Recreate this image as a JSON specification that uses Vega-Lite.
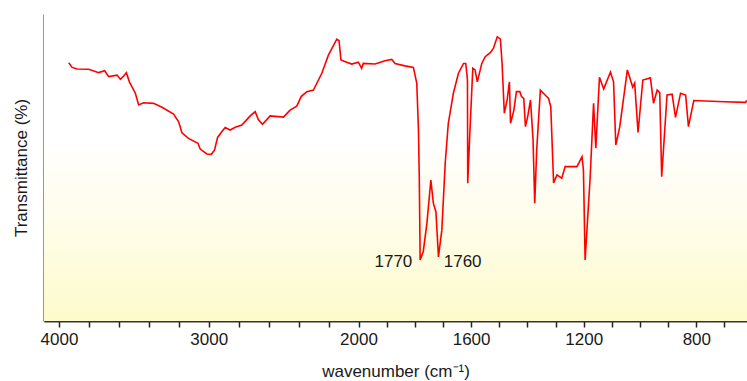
{
  "$schema": "https://vega.github.io/schema/vega-lite/v6.json",
  "autosize": {"type": "none"},
  "width": 703,
  "height": 307,
  "padding": {"left": 44, "top": 14, "right": 0, "bottom": 60},
  "background": "#ffffff",
  "config": {
    "view": {"stroke": null},
    "font": "Liberation Sans"
  },
  "datasets": {
    "spectrum": [
      {"wavenumber": 3935, "transmittance": 84.1},
      {"wavenumber": 3912, "transmittance": 82.6},
      {"wavenumber": 3879, "transmittance": 82.1},
      {"wavenumber": 3801, "transmittance": 82.0},
      {"wavenumber": 3735, "transmittance": 80.9},
      {"wavenumber": 3695, "transmittance": 81.5},
      {"wavenumber": 3668, "transmittance": 79.6},
      {"wavenumber": 3612, "transmittance": 80.1},
      {"wavenumber": 3590, "transmittance": 78.7},
      {"wavenumber": 3568, "transmittance": 79.8},
      {"wavenumber": 3550, "transmittance": 80.9},
      {"wavenumber": 3530, "transmittance": 77.9},
      {"wavenumber": 3490, "transmittance": 74.2},
      {"wavenumber": 3468, "transmittance": 70.4},
      {"wavenumber": 3435, "transmittance": 71.1},
      {"wavenumber": 3368, "transmittance": 70.9},
      {"wavenumber": 3312, "transmittance": 69.6},
      {"wavenumber": 3235, "transmittance": 67.4},
      {"wavenumber": 3201, "transmittance": 64.9},
      {"wavenumber": 3179, "transmittance": 61.3},
      {"wavenumber": 3135, "transmittance": 59.5},
      {"wavenumber": 3072, "transmittance": 57.9},
      {"wavenumber": 3057, "transmittance": 56.0},
      {"wavenumber": 3012, "transmittance": 54.4},
      {"wavenumber": 2983, "transmittance": 54.3},
      {"wavenumber": 2961, "transmittance": 55.7},
      {"wavenumber": 2941, "transmittance": 59.8},
      {"wavenumber": 2912, "transmittance": 61.7},
      {"wavenumber": 2890, "transmittance": 63.0},
      {"wavenumber": 2857, "transmittance": 62.2},
      {"wavenumber": 2823, "transmittance": 63.1},
      {"wavenumber": 2779, "transmittance": 63.8},
      {"wavenumber": 2723, "transmittance": 66.8},
      {"wavenumber": 2690, "transmittance": 68.2},
      {"wavenumber": 2668, "transmittance": 65.5},
      {"wavenumber": 2641, "transmittance": 64.1},
      {"wavenumber": 2590, "transmittance": 66.8},
      {"wavenumber": 2501, "transmittance": 66.4},
      {"wavenumber": 2457, "transmittance": 68.7},
      {"wavenumber": 2412, "transmittance": 70.0},
      {"wavenumber": 2383, "transmittance": 73.1},
      {"wavenumber": 2345, "transmittance": 74.7},
      {"wavenumber": 2301, "transmittance": 75.2},
      {"wavenumber": 2245, "transmittance": 80.7},
      {"wavenumber": 2201, "transmittance": 86.6},
      {"wavenumber": 2145, "transmittance": 91.8},
      {"wavenumber": 2130, "transmittance": 91.3},
      {"wavenumber": 2117, "transmittance": 85.0},
      {"wavenumber": 2079, "transmittance": 84.3},
      {"wavenumber": 2045, "transmittance": 83.7},
      {"wavenumber": 2001, "transmittance": 84.3},
      {"wavenumber": 1989, "transmittance": 82.3},
      {"wavenumber": 1983, "transmittance": 83.9},
      {"wavenumber": 1941, "transmittance": 83.7},
      {"wavenumber": 1906, "transmittance": 84.8},
      {"wavenumber": 1882, "transmittance": 85.2},
      {"wavenumber": 1870, "transmittance": 83.9},
      {"wavenumber": 1835, "transmittance": 83.1},
      {"wavenumber": 1805, "transmittance": 82.6},
      {"wavenumber": 1793, "transmittance": 77.4},
      {"wavenumber": 1787, "transmittance": 62.2},
      {"wavenumber": 1784, "transmittance": 45.9},
      {"wavenumber": 1781, "transmittance": 19.9},
      {"wavenumber": 1770, "transmittance": 22.6},
      {"wavenumber": 1757, "transmittance": 31.8},
      {"wavenumber": 1743, "transmittance": 45.9},
      {"wavenumber": 1734, "transmittance": 38.3},
      {"wavenumber": 1725, "transmittance": 35.6},
      {"wavenumber": 1716, "transmittance": 20.9},
      {"wavenumber": 1704, "transmittance": 29.6},
      {"wavenumber": 1692, "transmittance": 51.4},
      {"wavenumber": 1681, "transmittance": 64.4},
      {"wavenumber": 1663, "transmittance": 74.2},
      {"wavenumber": 1645, "transmittance": 80.7},
      {"wavenumber": 1627, "transmittance": 83.9},
      {"wavenumber": 1619, "transmittance": 83.9},
      {"wavenumber": 1613, "transmittance": 78.5},
      {"wavenumber": 1612, "transmittance": 44.9},
      {"wavenumber": 1604, "transmittance": 62.2},
      {"wavenumber": 1594, "transmittance": 82.3},
      {"wavenumber": 1586, "transmittance": 81.8},
      {"wavenumber": 1578, "transmittance": 77.9},
      {"wavenumber": 1562, "transmittance": 83.9},
      {"wavenumber": 1550, "transmittance": 86.1},
      {"wavenumber": 1532, "transmittance": 87.4},
      {"wavenumber": 1521, "transmittance": 88.8},
      {"wavenumber": 1507, "transmittance": 92.6},
      {"wavenumber": 1496, "transmittance": 91.8},
      {"wavenumber": 1490, "transmittance": 83.9},
      {"wavenumber": 1482, "transmittance": 67.7},
      {"wavenumber": 1472, "transmittance": 72.0},
      {"wavenumber": 1464, "transmittance": 77.9},
      {"wavenumber": 1460, "transmittance": 64.4},
      {"wavenumber": 1448, "transmittance": 68.7},
      {"wavenumber": 1439, "transmittance": 74.7},
      {"wavenumber": 1427, "transmittance": 74.7},
      {"wavenumber": 1421, "transmittance": 73.1},
      {"wavenumber": 1413, "transmittance": 72.5},
      {"wavenumber": 1407, "transmittance": 63.3},
      {"wavenumber": 1398, "transmittance": 67.1},
      {"wavenumber": 1389, "transmittance": 72.0},
      {"wavenumber": 1380, "transmittance": 59.0},
      {"wavenumber": 1374, "transmittance": 38.4},
      {"wavenumber": 1367, "transmittance": 55.7},
      {"wavenumber": 1354, "transmittance": 75.2},
      {"wavenumber": 1337, "transmittance": 73.6},
      {"wavenumber": 1325, "transmittance": 72.5},
      {"wavenumber": 1317, "transmittance": 69.8},
      {"wavenumber": 1307, "transmittance": 45.0},
      {"wavenumber": 1295, "transmittance": 47.6},
      {"wavenumber": 1278, "transmittance": 46.5},
      {"wavenumber": 1266, "transmittance": 50.3},
      {"wavenumber": 1224, "transmittance": 50.3},
      {"wavenumber": 1206, "transmittance": 53.5},
      {"wavenumber": 1201, "transmittance": 49.2},
      {"wavenumber": 1195, "transmittance": 19.9},
      {"wavenumber": 1177, "transmittance": 47.0},
      {"wavenumber": 1165, "transmittance": 70.9},
      {"wavenumber": 1157, "transmittance": 56.3},
      {"wavenumber": 1144, "transmittance": 79.4},
      {"wavenumber": 1129, "transmittance": 75.6},
      {"wavenumber": 1105, "transmittance": 81.1},
      {"wavenumber": 1094, "transmittance": 77.9},
      {"wavenumber": 1086, "transmittance": 57.3},
      {"wavenumber": 1072, "transmittance": 63.2},
      {"wavenumber": 1045, "transmittance": 81.8},
      {"wavenumber": 1026, "transmittance": 76.2},
      {"wavenumber": 1019, "transmittance": 77.5},
      {"wavenumber": 1007, "transmittance": 61.4},
      {"wavenumber": 990, "transmittance": 78.5},
      {"wavenumber": 963, "transmittance": 79.2},
      {"wavenumber": 952, "transmittance": 70.9},
      {"wavenumber": 939, "transmittance": 75.2},
      {"wavenumber": 930, "transmittance": 74.4},
      {"wavenumber": 923, "transmittance": 47.0},
      {"wavenumber": 904, "transmittance": 73.6},
      {"wavenumber": 886, "transmittance": 73.9},
      {"wavenumber": 874, "transmittance": 66.3},
      {"wavenumber": 856, "transmittance": 74.2},
      {"wavenumber": 838, "transmittance": 73.6},
      {"wavenumber": 828, "transmittance": 63.3},
      {"wavenumber": 809, "transmittance": 71.8},
      {"wavenumber": 701, "transmittance": 71.4},
      {"wavenumber": 625, "transmittance": 71.2},
      {"wavenumber": 621, "transmittance": 71.9}
    ],
    "peaks": [
      {"wavenumber": 1876, "transmittance": 19.3, "label": "1770"},
      {"wavenumber": 1630, "transmittance": 19.3, "label": "1760"}
    ]
  },
  "layer": [
    {
      "data": {"values": [{"panel": "plot"}]},
      "mark": {
        "type": "rect",
        "color": {
          "gradient": "linear",
          "x1": 0, "y1": 0, "x2": 0, "y2": 1,
          "stops": [
            {"offset": 0, "color": "#ffffff"},
            {"offset": 0.4, "color": "#ffffff"},
            {"offset": 0.62, "color": "#fffdef"},
            {"offset": 1, "color": "#fdfbcc"}
          ]
        }
      },
      "encoding": {}
    },
    {
      "data": {"name": "spectrum"},
      "mark": {"type": "line", "color": "#ff0000", "strokeWidth": 1.6, "clip": true},
      "encoding": {
        "x": {
          "field": "wavenumber",
          "type": "quantitative",
          "scale": {"domain": [4100, 2000, 620], "range": [0, 314.5, 703], "nice": false, "zero": false},
          "axis": {
            "values": [4000, 3800, 3600, 3400, 3200, 3000, 2800, 2600, 2400, 2200, 2000, 1900, 1800, 1700, 1600, 1500, 1400, 1300, 1200, 1100, 1000, 900, 800, 700],
            "tickCount": 60,
            "labelExpr": "indexof([4000, 3000, 2000, 1600, 1200, 800], datum.value) >= 0 ? datum.value : ''",
            "grid": false,
            "domainColor": "#333333",
            "domainWidth": 2,
            "tickColor": "#222222",
            "tickWidth": 1.5,
            "tickSize": 6,
            "labelFontSize": 17,
            "labelColor": "#1a1a1a",
            "labelPadding": 4,
            "labelFlush": false,
            "labelOverlap": false,
            "title": "wavenumber (cm⁻¹)",
            "titleFontSize": 17,
            "titleFontWeight": "normal",
            "titleColor": "#1a1a1a",
            "titlePadding": 16
          }
        },
        "y": {
          "field": "transmittance",
          "type": "quantitative",
          "scale": {"domain": [0, 100], "nice": false},
          "axis": {
            "ticks": false,
            "labels": false,
            "grid": false,
            "domainColor": "#333333",
            "domainWidth": 2,
            "title": "Transmittance (%)",
            "titleFontSize": 17,
            "titleFontWeight": "normal",
            "titleColor": "#1a1a1a",
            "titlePadding": 14
          }
        }
      }
    },
    {
      "data": {"name": "peaks"},
      "mark": {"type": "text", "fontSize": 17, "color": "#1a1a1a", "align": "center", "baseline": "middle"},
      "encoding": {
        "x": {"field": "wavenumber", "type": "quantitative"},
        "y": {"field": "transmittance", "type": "quantitative"},
        "text": {"field": "label"}
      }
    }
  ]
}
